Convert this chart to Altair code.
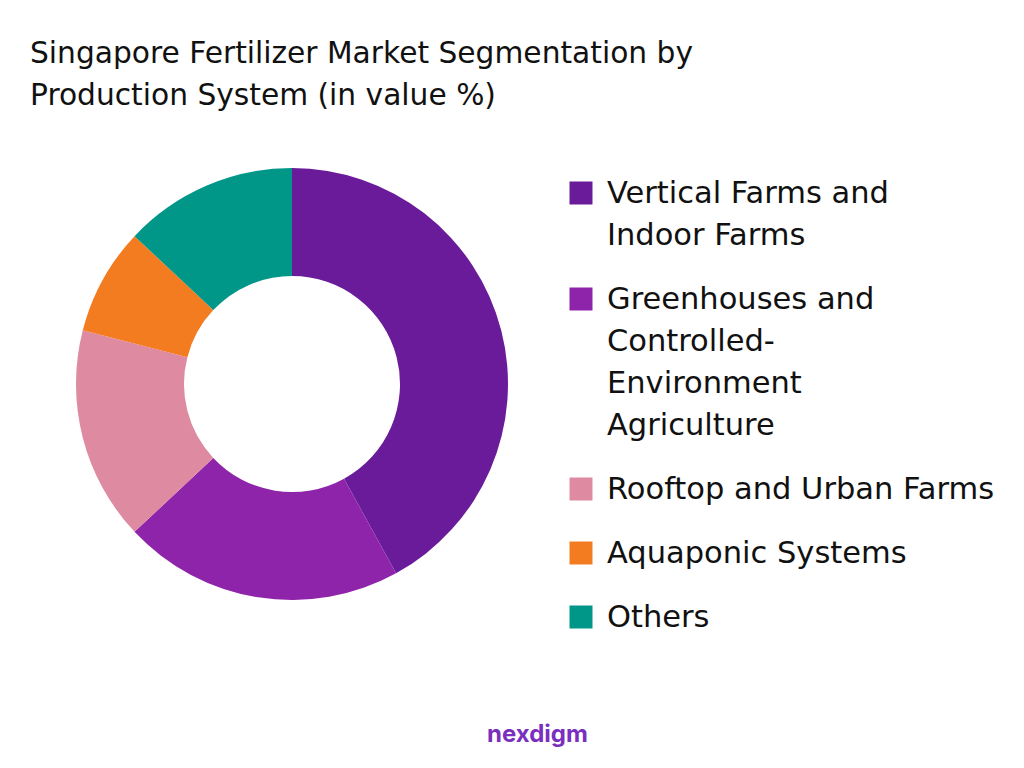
import altair as alt
import pandas as pd

# ---- data ----
categories = [
    "Vertical Farms and Indoor Farms",
    "Greenhouses and Controlled-Environment Agriculture",
    " Rooftop and Urban Farms",
    "Aquaponic Systems",
    "Others",
]
label_lines = [
    ["Vertical Farms and", "Indoor Farms"],
    ["Greenhouses and", "Controlled-", "Environment", "Agriculture"],
    ["\u2002Rooftop and Urban Farms"],
    ["Aquaponic Systems"],
    ["Others"],
]
values = [42, 21, 16, 8, 13]
colors = ["#6A1B9A", "#8E24AA", "#DE8AA0", "#F47C20", "#009688"]

# ---- layout ----
FONT = "DejaVu Sans"
LINE_H = 42
ENTRY_GAP = 64
LEG_TOP = 65  # first-line center of first entry, in plot coords

ypos = []
y = LEG_TOP
for lines in label_lines:
    ypos.append(y)
    y += (len(lines) - 1) * LINE_H + ENTRY_GAP

df = pd.DataFrame({
    "segment": categories,
    "value": values,
    "order": list(range(len(values))),
    "lines": label_lines,
    "ly": ypos,
})

color = alt.Color("segment:N", scale=alt.Scale(domain=categories, range=colors), legend=None)

donut = alt.Chart(df).mark_arc(innerRadius=108, outerRadius=216).encode(
    theta=alt.Theta("value:Q", stack=True),
    order=alt.Order("order:Q", sort="ascending"),
    color=color,
    x=alt.value(284),
    y=alt.value(256),
)

leg_sym = alt.Chart(df).mark_square(size=529, opacity=1).encode(
    x=alt.value(581 - 8),
    y=alt.Y("ly:Q", scale=None, axis=None),
    color=color,
)

leg_txt = alt.Chart(df).mark_text(
    font=FONT, fontSize=30.5, lineHeight=LINE_H, align="left", baseline="top",
    color="#111111", yOffset=-14.5,
).encode(
    x=alt.value(607 - 8),
    y=alt.Y("ly:Q", scale=None, axis=None),
    text="lines",
)

logo = alt.Chart(pd.DataFrame({"t": ["nexdigm"]})).mark_text(
    font="Inter", fontSize=24, fontWeight="bold", color="#7B2FBE", align="left", baseline="middle"
).encode(text="t:N", x=alt.value(479), y=alt.value(607))

chart = alt.layer(donut, leg_sym, leg_txt, logo).properties(
    width=1008,
    height=632,
    padding={"left": 0, "top": 120, "right": 0, "bottom": 0},
    autosize=alt.AutoSizeParams(type="none"),
    title=alt.Title(
        ["Singapore Fertilizer Market Segmentation by", "Production System (in value %)"],
        anchor="start",
        frame="group",
        font=FONT,
        fontSize=29.7,
        fontWeight="normal",
        color="#111111",
        lineHeight=42,
        offset=16,
        dx=22,
    ),
).configure(background="white", view=alt.ViewConfig(stroke=None))

chart.save("out.html", embed_options={"renderer": "svg", "actions": False})
